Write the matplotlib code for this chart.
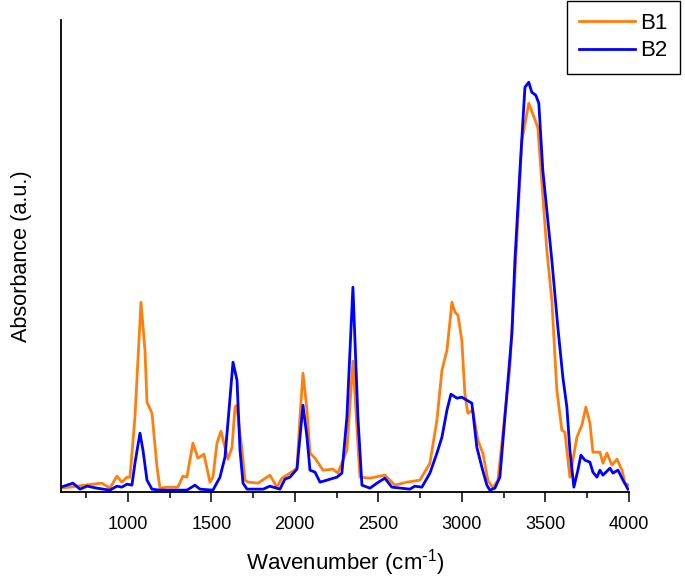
import matplotlib.pyplot as plt
from matplotlib.ticker import MultipleLocator

plt.rcParams['font.family'] = ['Liberation Sans', 'DejaVu Sans']
plt.rcParams['mathtext.default'] = 'regular'

# B1 spectrum (wavenumber, absorbance a.u.)
b1_wn = [600, 744, 845, 893, 935, 965, 995, 1013, 1043, 1079, 1103, 1115, 1145,
         1175, 1193, 1235, 1300, 1330, 1354, 1390, 1420, 1456, 1492, 1510, 1534,
         1558, 1582, 1600, 1624, 1642, 1652, 1684, 1702, 1720, 1780, 1851, 1893,
         1923, 1971, 2013, 2031, 2049, 2073, 2091, 2121, 2169, 2228, 2258, 2312,
         2348, 2390, 2450, 2539, 2599, 2671, 2749, 2809, 2851, 2881, 2911, 2941,
         2959, 2977, 3000, 3018, 3036, 3066, 3096, 3126, 3156, 3186, 3216, 3246,
         3288, 3323, 3360, 3401, 3455, 3509, 3539, 3569, 3599, 3617, 3647, 3689,
         3719, 3743, 3767, 3785, 3827, 3845, 3869, 3899, 3929, 3959, 3977, 4000]
b1_abs = [4, 7, 9, 4, 16, 10, 15, 15, 75, 190, 142, 90, 79,
          25, 4, 5, 5, 16, 15, 49, 34, 38, 10, 15, 49,
          61, 45, 33, 45, 85, 87, 42, 12, 10, 9, 17, 5,
          14, 19, 24, 75, 119, 82, 39, 34, 22, 23, 19, 42,
          131, 15, 14, 17, 7, 10, 12, 29, 72, 122, 142, 190,
          180, 177, 152, 99, 79, 82, 52, 39, 12, 4, 12, 59,
          125, 232, 352, 389, 365, 242, 192, 102, 62, 60, 15, 55,
          67, 85, 69, 40, 40, 29, 39, 27, 33, 22, 9, 7]

# B2 spectrum
b2_wn = [600, 672, 714, 756, 815, 893, 935, 965, 995, 1025, 1043, 1073, 1091,
         1115, 1145, 1193, 1354, 1402, 1432, 1510, 1552, 1582, 1606, 1630, 1654,
         1672, 1690, 1714, 1810, 1851, 1911, 1941, 1971, 2013, 2031, 2049, 2073,
         2091, 2121, 2151, 2192, 2252, 2282, 2312, 2348, 2378, 2402, 2450, 2492,
         2539, 2581, 2689, 2719, 2761, 2809, 2851, 2881, 2911, 2935, 2971, 3000,
         3030, 3060, 3090, 3120, 3150, 3168, 3198, 3228, 3258, 3300, 3318, 3348,
         3378, 3401, 3419, 3443, 3461, 3485, 3539, 3575, 3605, 3629, 3647, 3671,
         3695, 3713, 3737, 3767, 3785, 3809, 3827, 3845, 3887, 3905, 3935, 3965,
         3995]
b2_abs = [5, 9, 3, 6, 4, 2, 6, 5, 8, 7, 29, 59, 42,
          12, 3, 2, 2, 7, 3, 2, 15, 35, 82, 130, 112,
          42, 9, 3, 3, 6, 3, 13, 15, 23, 55, 87, 55,
          22, 20, 10, 12, 15, 19, 75, 205, 75, 7, 4, 9,
          14, 5, 3, 6, 5, 19, 39, 55, 82, 98, 94, 95,
          92, 89, 45, 25, 7, 2, 4, 15, 75, 159, 232, 322,
          405, 410, 400, 397, 389, 322, 232, 165, 115, 85, 42, 5,
          22, 37, 32, 30, 20, 15, 22, 17, 24, 19, 22, 12,
          3]

fig = plt.figure(figsize=(6.85, 5.79), dpi=100)
ax = fig.add_axes([0.089, 0.150, 0.829, 0.815])

ax.plot(b1_wn, b1_abs, color='#FF7F0E', linewidth=2.0, label='B1')
ax.plot(b2_wn, b2_abs, color='#0000FF', linewidth=2.0, label='B2')

ax.set_xlim(600, 4000)
ax.set_ylim(0, 472)
ax.xaxis.set_major_locator(MultipleLocator(500))
ax.xaxis.set_minor_locator(MultipleLocator(250))
ax.tick_params(axis='x', which='major', direction='out', length=7, width=1.1,
               labelsize=13, pad=10)
ax.tick_params(axis='x', which='minor', direction='out', length=4, width=1.1)
ax.set_yticks([])

for side in ['top', 'right']:
    ax.spines[side].set_visible(False)
for side in ['left', 'bottom']:
    ax.spines[side].set_linewidth(1.3)

ax.set_xlabel(r'Wavenumber (cm$^{\text{-}1}$)', fontsize=16, labelpad=10)
ax.set_ylabel('Absorbance (a.u.)', fontsize=15.6, labelpad=21)

fig.legend(loc='upper right', bbox_to_anchor=(0.993, 0.999), fontsize=16,
           frameon=True, fancybox=False, edgecolor='black', framealpha=1,
           handlelength=2.5, handletextpad=0.25, borderpad=0.55,
           labelspacing=0.3, borderaxespad=0)

fig.savefig('out.png', dpi=100)
